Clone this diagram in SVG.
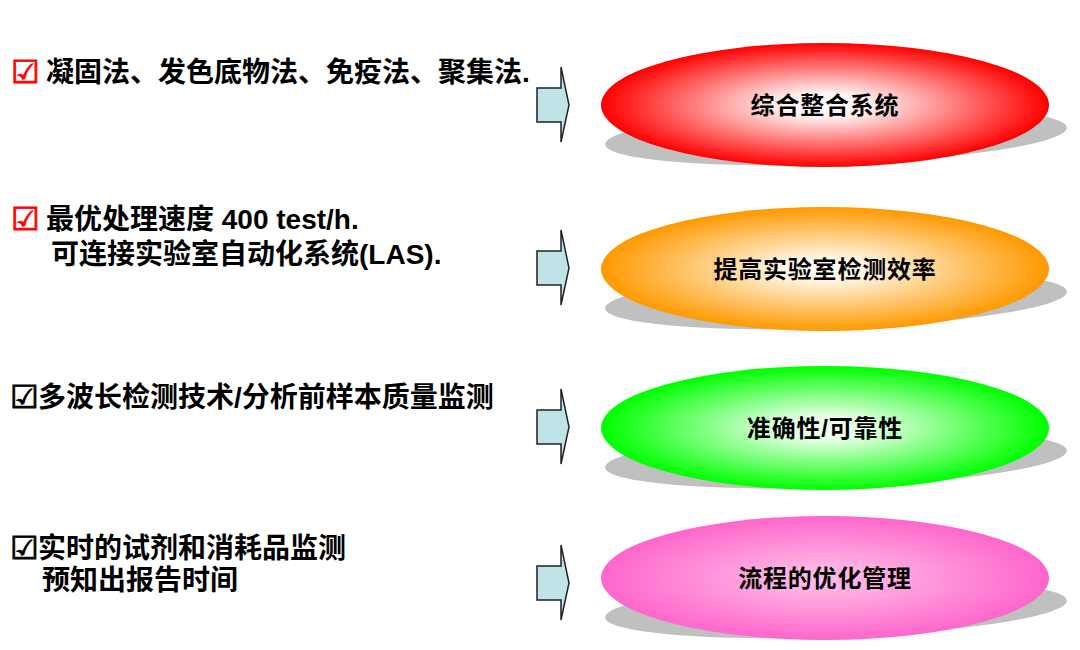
<svg xmlns="http://www.w3.org/2000/svg" width="1080" height="650" viewBox="0 0 1080 650">
<defs>
<style>
.t{font-family:"Liberation Sans","Noto Sans CJK SC",sans-serif;font-weight:bold;font-size:28px;fill:#000}
.ck{font-family:"DejaVu Sans",sans-serif;font-weight:bold;font-size:32px;stroke-width:0.9px}
.lbl{font-family:"Liberation Sans","Noto Sans CJK SC",sans-serif;font-weight:bold;font-size:24px;fill:#000;text-anchor:middle;letter-spacing:0.8px}
.sh{fill:#c0c0c0}
.arr{fill:#bfe3e6;stroke:#222;stroke-width:1.5;stroke-linejoin:miter}
</style>
<radialGradient id="gRed" cx="50%" cy="50%" r="50%">
<stop offset="0" stop-color="#ffffff"/>
<stop offset="0.2" stop-color="#fff0f0"/>
<stop offset="1" stop-color="#ff0000"/>
</radialGradient>
<radialGradient id="gOrange" cx="50%" cy="50%" r="50%">
<stop offset="0" stop-color="#fffdf6"/>
<stop offset="0.2" stop-color="#fff4e0"/>
<stop offset="1" stop-color="#ff9900"/>
</radialGradient>
<radialGradient id="gGreen" cx="50%" cy="50%" r="50%">
<stop offset="0" stop-color="#f2fff2"/>
<stop offset="0.2" stop-color="#e2ffe2"/>
<stop offset="1" stop-color="#00ff00"/>
</radialGradient>
<radialGradient id="gPink" cx="50%" cy="50%" r="50%">
<stop offset="0" stop-color="#ffbbe8"/>
<stop offset="0.2" stop-color="#ffb2e3"/>
<stop offset="1" stop-color="#ff66cc"/>
</radialGradient>
</defs>
<rect width="1080" height="650" fill="#ffffff"/>

<g id="left-texts">
<g id="item1">
<text class="t" x="11" y="83"><tspan class="ck" fill="#ff0000" stroke="#ff0000">☑</tspan><tspan x="46" y="82">凝固法、发色底物法、免疫法、聚集法.</tspan></text>
</g>
<g id="item2">
<text class="t" x="11" y="230"><tspan class="ck" fill="#ff0000" stroke="#ff0000">☑</tspan><tspan x="46" y="229">最优处理速度 400 test/h.</tspan></text>
<text class="t" x="51" y="264">可连接实验室自动化系统(LAS).</text>
</g>
<g id="item3">
<text class="t" x="10" y="408"><tspan class="ck" fill="#000" stroke="#000">☑</tspan><tspan x="38" y="407">多波长检测技术/分析前样本质量监测</tspan></text>
</g>
<g id="item4">
<text class="t" x="10" y="559"><tspan class="ck" fill="#000" stroke="#000">☑</tspan><tspan x="38" y="558">实时的试剂和消耗品监测</tspan></text>
<text class="t" x="42" y="590">预知出报告时间</text>
</g>
</g>

<g id="connectors">
<path class="arr" d="M537,88 H561 V67 L569,105 L561,142 V122 H537 Z"/>
<path class="arr" d="M537,251 H561 V230 L569,268 L561,305 V285 H537 Z"/>
<path class="arr" d="M537,410 H561 V389 L569,427 L561,464 V444 H537 Z"/>
<path class="arr" d="M537,566 H561 V545 L569,583 L561,620 V600 H537 Z"/>
</g>

<g id="node1">
<ellipse class="sh" cx="836" cy="136" rx="231" ry="28" transform="rotate(-2.1 836 136)"/>
<ellipse cx="825" cy="105" rx="224" ry="62" fill="url(#gRed)"/>
<text class="lbl" x="825" y="114">综合整合系统</text>
</g>
<g id="node2">
<ellipse class="sh" cx="836" cy="300" rx="231" ry="28" transform="rotate(-2.1 836 300)"/>
<ellipse cx="825" cy="269" rx="224" ry="62" fill="url(#gOrange)"/>
<text class="lbl" x="825" y="278">提高实验室检测效率</text>
</g>
<g id="node3">
<ellipse class="sh" cx="836" cy="459" rx="231" ry="28" transform="rotate(-2.1 836 459)"/>
<ellipse cx="825" cy="428" rx="224" ry="62" fill="url(#gGreen)"/>
<text class="lbl" x="825" y="437">准确性/可靠性</text>
</g>
<g id="node4">
<ellipse class="sh" cx="836" cy="609" rx="231" ry="28" transform="rotate(-2.1 836 609)"/>
<ellipse cx="825" cy="578" rx="224" ry="62" fill="url(#gPink)"/>
<text class="lbl" x="825" y="587">流程的优化管理</text>
</g>
</svg>
